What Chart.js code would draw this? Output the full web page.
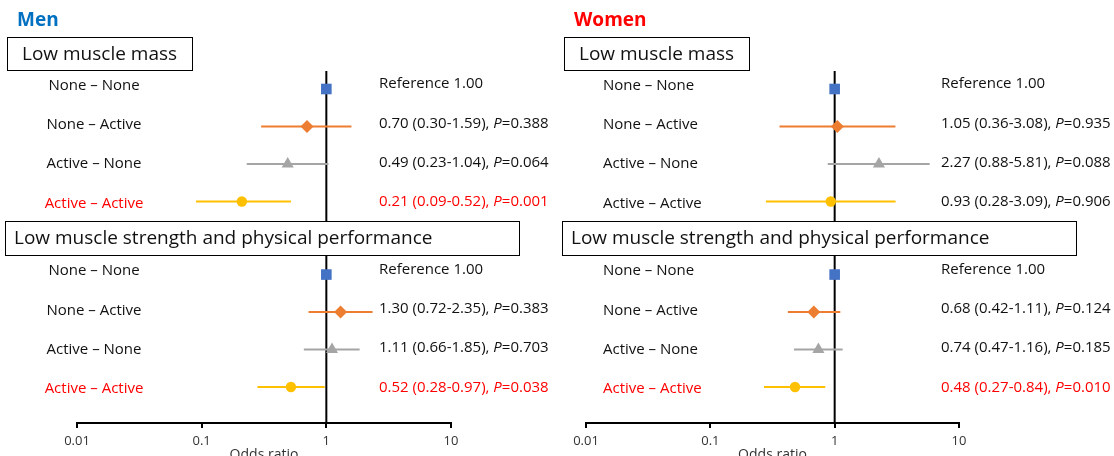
<!DOCTYPE html>
<html>
<head>
<meta charset="utf-8">
<script src="https://cdn.jsdelivr.net/npm/chart.js@4.4.1/dist/chart.umd.min.js"></script>
<style>
  html, body { margin: 0; padding: 0; background: #fff; overflow: hidden; }
  #wrap { position: relative; width: 1114px; height: 456px; overflow: hidden; }
  .panel { position: absolute; top: 0; width: 557px; height: 470px; }
</style>
</head>
<body>
<div id="wrap">
  <div class="panel" style="left:0"><canvas id="chart-men"></canvas></div>
  <div class="panel" style="left:557px"><canvas id="chart-women"></canvas></div>
</div>
<script>
var rowLabels = ["None – None", "None – Active", "Active – None", "Active – Active"];
var sectionTitles = ["Low muscle mass", "Low muscle strength and physical performance"];
var tickValues = [0.01, 0.1, 1, 10];
var tickLabels = ["0.01", "0.1", "1", "10"];

// odds ratio, 95% CI and P value; the first row is the reference group
var menMassOR = [1.00, 0.70, 0.49, 0.21];
var menMassLow = [null, 0.30, 0.23, 0.09];
var menMassHigh = [null, 1.59, 1.04, 0.52];
var menMassP = [null, "0.388", "0.064", "0.001"];

var menStrengthOR = [1.00, 1.30, 1.11, 0.52];
var menStrengthLow = [null, 0.72, 0.66, 0.28];
var menStrengthHigh = [null, 2.35, 1.85, 0.97];
var menStrengthP = [null, "0.383", "0.703", "0.038"];

var womenMassOR = [1.00, 1.05, 2.27, 0.93];
var womenMassLow = [null, 0.36, 0.88, 0.28];
var womenMassHigh = [null, 3.08, 5.81, 3.09];
var womenMassP = [null, "0.935", "0.088", "0.906"];

var womenStrengthOR = [1.00, 0.68, 0.74, 0.48];
var womenStrengthLow = [null, 0.42, 0.47, 0.27];
var womenStrengthHigh = [null, 1.11, 1.16, 0.84];
var womenStrengthP = [null, "0.124", "0.185", "0.010"];

var markerColors = ["#4472C4", "#ED7D31", "#A5A5A5", "#FFC000"];
var markerStyles = ["rect", "rectRot", "triangle", "circle"];
var markerRadius = [7.5, 6.5, 7, 5.2];
var fontFamily = "'Open Sans', 'Noto Sans', sans-serif";
var textColor = "#111";
var sigColor = "#FF0000";
var textStep = 39.3; // text rows are spaced a little wider than the markers

function rowY(section, row) {
  return section * 4.95 + row;
}

function makeDatasets(sections) {
  var ds = [];
  sections.forEach(function(s, si) {
    s.or.forEach(function(v, r) {
      if (s.low[r] == null) return;
      ds.push({
        data: [{x: s.low[r], y: rowY(si, r)}, {x: s.high[r], y: rowY(si, r)}],
        showLine: true,
        borderColor: markerColors[r],
        borderWidth: 2,
        pointRadius: 0,
        order: 2,
      });
    });
    ds.push({
      data: s.or.map(function(v, r) { return {x: v, y: rowY(si, r)}; }),
      showLine: false,
      pointStyle: markerStyles,
      pointRadius: markerRadius,
      pointBackgroundColor: markerColors,
      pointBorderColor: markerColors,
      pointBorderWidth: 0,
      order: 1,
    });
  });
  return ds;
}

function drawParts(ctx, x, y, parts) {
  parts.forEach(function(p) {
    ctx.font = p.font;
    ctx.fillText(p.text, x, y);
    x += ctx.measureText(p.text).width;
  });
}

var annotate = {
  id: "annotate",
  beforeDatasetsDraw: function(chart) {
    var ctx = chart.ctx, area = chart.chartArea;
    var px = chart.scales.x.getPixelForValue(1);
    ctx.save();
    ctx.strokeStyle = "#000";
    ctx.lineWidth = 2;
    ctx.beginPath();
    ctx.moveTo(px, area.top);
    ctx.lineTo(px, area.bottom);
    ctx.stroke();
    ctx.restore();
  },
  afterDatasetsDraw: function(chart, args, opts) {
    var ctx = chart.ctx, yScale = chart.scales.y;
    ctx.save();
    ctx.textBaseline = "middle";

    ctx.font = "bold 19px " + fontFamily;
    ctx.fillStyle = opts.titleColor;
    ctx.fillText(opts.title, 17, 21);

    opts.sections.forEach(function(s, si) {
      var box = opts.boxes[si];
      ctx.fillStyle = "#fff";
      ctx.fillRect(box.x, box.y, box.w, box.h);
      ctx.strokeStyle = "#000";
      ctx.lineWidth = 1;
      ctx.strokeRect(box.x + 0.5, box.y + 0.5, box.w, box.h);
      ctx.fillStyle = textColor;
      ctx.font = "19px " + fontFamily;
      ctx.textAlign = "left";
      ctx.fillText(sectionTitles[si], box.x + box.pad, box.y + box.h / 2 + 1);

      var top = yScale.getPixelForValue(rowY(si, 0));
      var normal = "15px " + fontFamily;
      var italic = "italic 15px " + fontFamily;
      rowLabels.forEach(function(label, r) {
        var sig = s.p[r] != null && parseFloat(s.p[r]) < 0.05;
        ctx.fillStyle = sig ? sigColor : textColor;
        ctx.font = normal;
        ctx.textAlign = opts.labelAlign;
        ctx.fillText(label, opts.labelX, top - 3.5 + r * textStep);

        ctx.textAlign = "left";
        var y = top - 5 + r * textStep;
        if (s.low[r] == null) {
          drawParts(ctx, opts.statX, y, [{text: "Reference 1.00", font: normal}]);
        } else {
          drawParts(ctx, opts.statX, y, [
            {text: s.or[r].toFixed(2) + " (" + s.low[r].toFixed(2) + "-" + s.high[r].toFixed(2) + "), ", font: normal},
            {text: "P", font: italic},
            {text: "=" + s.p[r], font: normal},
          ]);
        }
      });
    });
    ctx.restore();
  }
};

function makeChart(ctx, sections, padding, opts) {
  opts.sections = sections;
  return new Chart(ctx, {
    type: "scatter",
    data: { datasets: makeDatasets(sections) },
    options: {
      responsive: true,
      maintainAspectRatio: false,
      animation: false,
      events: [],
      layout: { padding: padding },
      plugins: {
        legend: { display: false },
        tooltip: { enabled: false },
        annotate: opts,
      },
      scales: {
        x: {
          type: "logarithmic",
          min: 0.01,
          max: 10,
          afterBuildTicks: function(scale) {
            scale.ticks = tickValues.map(function(v) { return {value: v}; });
          },
          afterFit: function(scale) { scale.height = 40; },
          grid: { drawOnChartArea: false, drawTicks: true, tickLength: 5, color: "#000", lineWidth: 2 },
          border: { color: "#000", width: 2 },
          ticks: {
            color: "#333",
            font: { family: fontFamily, size: 13 },
            padding: 5,
            maxRotation: 0,
            autoSkip: false,
            callback: function(v) { return tickLabels[tickValues.indexOf(v)]; },
          },
          title: { display: true, text: "Odds ratio", color: "#333", font: { family: fontFamily, size: 14 }, padding: 0 },
        },
        y: { type: "linear", reverse: true, min: -0.48, max: 8.91, display: false },
      },
    },
    plugins: [annotate],
  });
}

var boxes = [
  {x: 7, y: 37, w: 185, h: 33, pad: 15},
  {x: 5, y: 221, w: 514, h: 34, pad: 9},
];

makeChart(document.getElementById("chart-men").getContext("2d"), [
  {or: menMassOR, low: menMassLow, high: menMassHigh, p: menMassP},
  {or: menStrengthOR, low: menStrengthLow, high: menStrengthHigh, p: menStrengthP},
], {left: 77, right: 106, top: 71, bottom: 7},
  {title: "Men", titleColor: "#0070C0", labelX: 94, labelAlign: "center", statX: 379, boxes: boxes});

makeChart(document.getElementById("chart-women").getContext("2d"), [
  {or: womenMassOR, low: womenMassLow, high: womenMassHigh, p: womenMassP},
  {or: womenStrengthOR, low: womenStrengthLow, high: womenStrengthHigh, p: womenStrengthP},
], {left: 29, right: 155, top: 71, bottom: 7},
  {title: "Women", titleColor: "#FF0000", labelX: 46, labelAlign: "left", statX: 384, boxes: boxes});
</script>
</body>
</html>
